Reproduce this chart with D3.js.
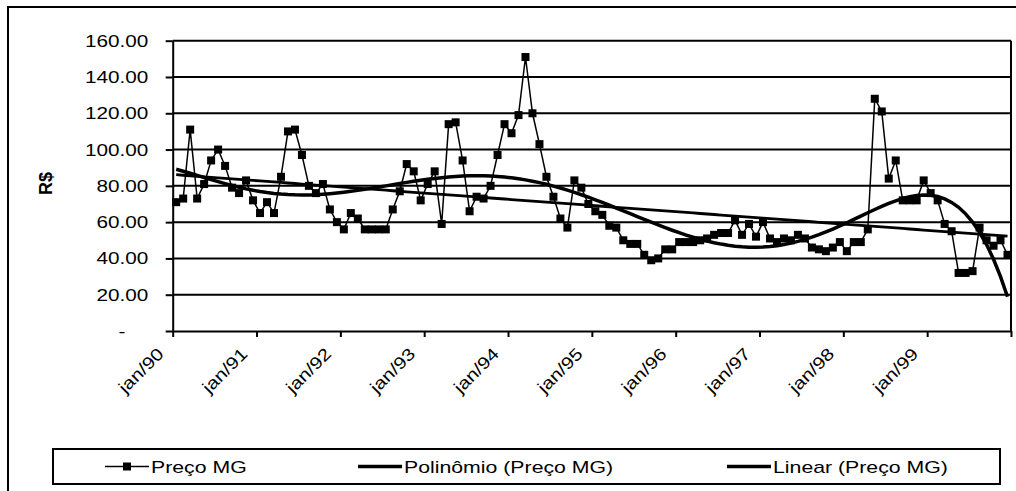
<!DOCTYPE html>
<html>
<head>
<meta charset="utf-8">
<script src="https://cdn.jsdelivr.net/npm/d3@7"></script>
<style>
  body { margin: 0; background: #fff; }
  svg { display: block; font-family: "Liberation Sans", Arial, sans-serif; }
</style>
</head>
<body>
<div id="chart"></div>
<script>
// monthly price, jan/90 .. dez/99
const months = ['jan', 'fev', 'mar', 'abr', 'mai', 'jun', 'jul', 'ago', 'set', 'out', 'nov', 'dez'];
const years = ['90', '91', '92', '93', '94', '95', '96', '97', '98', '99'];
const precoMG = [
  71, 73, 111, 73, 81, 94, 100, 91, 79, 76, 83, 72,
  65, 71, 65, 85, 110, 111, 97, 80, 76, 81, 67, 60,
  56, 65, 62, 56, 56, 56, 56, 67, 77, 92, 88, 72,
  81, 88, 59, 114, 115, 94, 66, 74, 73, 80, 97, 114,
  109, 119, 151, 120, 103, 85, 74, 62, 57, 83, 79, 70,
  66, 64, 58, 57, 50, 48, 48, 42, 39, 40, 45, 45,
  49, 49, 49, 50, 51, 53, 54, 54, 61, 53, 59, 52,
  60, 51, 49, 51, 50, 53, 51, 46, 45, 44, 46, 49,
  44, 49, 49, 56, 128, 121, 84, 94, 72, 72, 72, 83,
  76, 72, 59, 55, 32, 32, 33, 57, 50, 47, 50, 42
];
const yTicks = [0, 20, 40, 60, 80, 100, 120, 140, 160];
const legendLabels = ['Preço MG', 'Polinômio (Preço MG)', 'Linear (Preço MG)'];

const categories = [];
years.forEach(yr => months.forEach(m => categories.push(m + '/' + yr)));
const yearLabels = years.map(yr => 'jan/' + yr);

// least squares polynomial (Excel style trendline)
function polyFit(xs, ys, order) {
  const n = order + 1;
  const A = Array.from({ length: n }, () => new Array(n + 1).fill(0));
  xs.forEach((xv, k) => {
    for (let i = 0; i < n; i++) {
      for (let j = 0; j < n; j++) A[i][j] += Math.pow(xv, i + j);
      A[i][n] += Math.pow(xv, i) * ys[k];
    }
  });
  for (let c = 0; c < n; c++) {
    let p = c;
    for (let r = c + 1; r < n; r++) if (Math.abs(A[r][c]) > Math.abs(A[p][c])) p = r;
    [A[c], A[p]] = [A[p], A[c]];
    for (let r = 0; r < n; r++) {
      if (r === c) continue;
      const f = A[r][c] / A[c][c];
      for (let k = c; k <= n; k++) A[r][k] -= f * A[c][k];
    }
  }
  return A.map((row, i) => row[n] / row[i]);
}

const N = precoMG.length;
const ts = precoMG.map((d, i) => (i - (N - 1) / 2) / ((N - 1) / 2));
const polyCoef = polyFit(ts, precoMG, 6);
const polyVals = ts.map(t => polyCoef.reduce((s, c, i) => s + c * Math.pow(t, i), 0));
const linCoef = polyFit(ts, precoMG, 1);
const linVals = ts.map(t => linCoef[0] + linCoef[1] * t);

const width = 1016, height = 491;
const plot = { left: 172.7, right: 1011, top: 40.7, bottom: 331 };

const svg = d3.select('#chart').append('svg')
  .attr('width', width)
  .attr('height', height);

// chart frame
svg.append('rect')
  .attr('x', 8).attr('y', 7)
  .attr('width', 1040).attr('height', 520)
  .attr('fill', 'none').attr('stroke', '#000').attr('stroke-width', 2);

const x = d3.scaleBand().domain(categories).range([plot.left, plot.right]);
const xb = d3.scaleLinear().domain([0, N]).range([plot.left, plot.right]);
const y = d3.scaleLinear().domain([0, 160]).range([plot.bottom, plot.top]);
const cx = i => x(categories[i]) + x.bandwidth() / 2;

// gridlines
svg.append('g').selectAll('line')
  .data(yTicks.filter(d => d > 0))
  .enter().append('line')
  .attr('x1', plot.left).attr('x2', plot.right)
  .attr('y1', d => y(d)).attr('y2', d => y(d))
  .attr('stroke', '#000').attr('stroke-width', 2);

// right border of plot area
svg.append('line')
  .attr('x1', plot.right).attr('x2', plot.right)
  .attr('y1', plot.top).attr('y2', plot.bottom)
  .attr('stroke', '#000').attr('stroke-width', 2);

// y axis
const yAxis = svg.append('g')
  .attr('transform', `translate(${plot.left},0)`)
  .call(d3.axisLeft(y).tickValues(yTicks).tickSize(7).tickSizeOuter(0)
    .tickFormat(d => d === 0 ? '-' : d.toFixed(2)));
yAxis.select('.domain').attr('stroke', '#000').attr('stroke-width', 2);
yAxis.selectAll('.tick line').attr('stroke', '#000').attr('stroke-width', 2);
yAxis.selectAll('.tick text')
  .attr('x', d => d === 0 ? -38.7 : -20)
  .attr('transform', 'scale(1.22,1)')
  .style('font-size', '17px')
  .attr('fill', '#000');

// x axis
const xAxis = svg.append('g')
  .attr('transform', `translate(0,${plot.bottom})`)
  .call(d3.axisBottom(xb).tickValues(d3.range(0, N + 1, 12)).tickSize(6).tickSizeOuter(0).tickFormat(''));
xAxis.select('.domain').attr('stroke', '#000').attr('stroke-width', 2);
xAxis.selectAll('.tick line').attr('stroke', '#000').attr('stroke-width', 2);

svg.append('g').selectAll('text')
  .data(yearLabels)
  .enter().append('text')
  .attr('text-anchor', 'end')
  .attr('transform', (d, i) => `translate(${xb(i * 12) - 8},${plot.bottom + 24}) rotate(-45) scale(1.2,1)`)
  .style('font-size', '17px')
  .text(d => d);

// y title
svg.append('text')
  .attr('transform', 'translate(52,183.5) rotate(-90)')
  .attr('text-anchor', 'middle')
  .style('font-size', '18px')
  .style('font-weight', 'bold')
  .text('R$');

// series
const line = d3.line().x((d, i) => cx(i)).y(d => y(d));

svg.append('path')
  .datum(precoMG)
  .attr('d', line)
  .attr('fill', 'none').attr('stroke', '#000').attr('stroke-width', 1.5);

svg.append('g').selectAll('rect')
  .data(precoMG)
  .enter().append('rect')
  .attr('x', (d, i) => cx(i) - 4)
  .attr('y', d => y(d) - 4)
  .attr('width', 8).attr('height', 8)
  .attr('fill', '#000');

svg.append('path')
  .datum(linVals)
  .attr('d', line)
  .attr('fill', 'none').attr('stroke', '#000').attr('stroke-width', 2.8);

svg.append('path')
  .datum(polyVals)
  .attr('d', line)
  .attr('fill', 'none').attr('stroke', '#000').attr('stroke-width', 3.5);

// legend
const legend = svg.append('g');
legend.append('rect')
  .attr('x', 53).attr('y', 449)
  .attr('width', 947).attr('height', 35)
  .attr('fill', '#fff').attr('stroke', '#000').attr('stroke-width', 2);

const legendX = [105, 358, 727];
legendLabels.forEach((label, i) => {
  const lx = legendX[i];
  legend.append('line')
    .attr('x1', lx).attr('x2', lx + 44)
    .attr('y1', 466.5).attr('y2', 466.5)
    .attr('stroke', '#000').attr('stroke-width', i === 0 ? 1.5 : 3.5);
  if (i === 0) {
    legend.append('rect')
      .attr('x', lx + 22 - 4).attr('y', 462.5)
      .attr('width', 8).attr('height', 8)
      .attr('fill', '#000');
  }
  legend.append('text')
    .attr('transform', `translate(${lx + 46},472.5) scale(1.33,1)`)
    .style('font-size', '16px')
    .text(label);
});
</script>
</body>
</html>
